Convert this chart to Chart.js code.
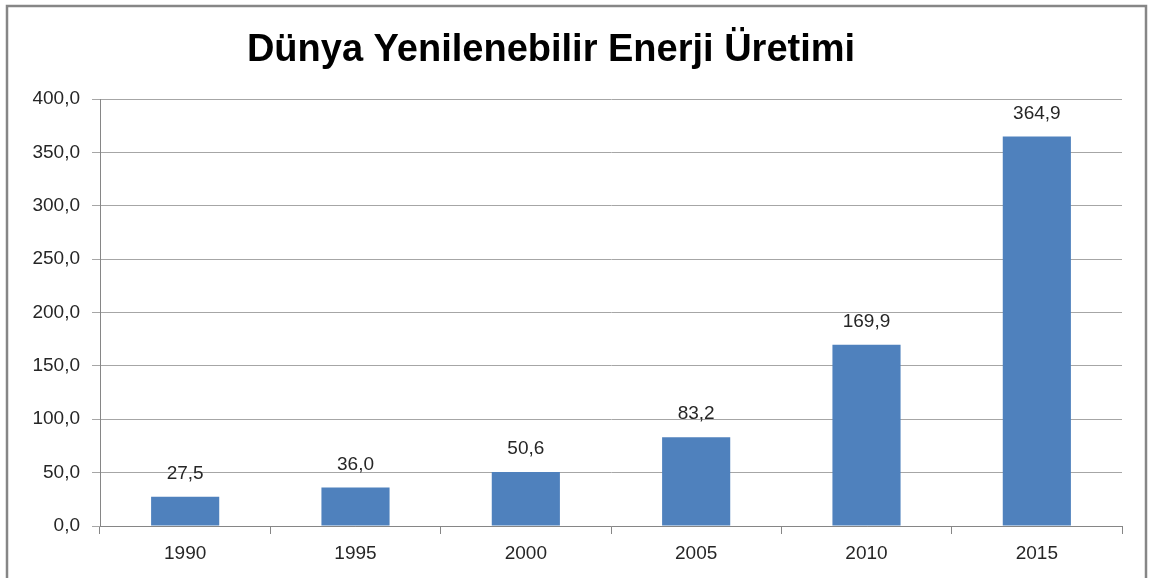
<!DOCTYPE html>
<html>
<head>
<meta charset="utf-8">
<script src="https://cdn.jsdelivr.net/npm/chart.js@4.4.0/dist/chart.umd.min.js"></script>
<style>
  html, body { margin: 0; padding: 0; background: #fff; }
  #wrap { width: 1150px; height: 578px; position: relative; }
</style>
</head>
<body>
<div id="wrap"><canvas id="chart" width="1150" height="578"></canvas></div>
<script>
// chart data
const years = ['1990', '1995', '2000', '2005', '2010', '2015'];
const production = [27.5, 36.0, 50.6, 83.2, 169.9, 364.9];
const chartTitle = 'Dünya Yenilenebilir Enerji Üretimi';

// Turkish style decimal comma
function trNumber(v) {
    return Number(v).toFixed(1).replace('.', ',');
}

// Outer frame like the spreadsheet chart border, plus the title
const framePlugin = {
    id: 'frame',
    beforeDraw(chart) {
        const ctx = chart.ctx;
        ctx.save();
        ctx.fillStyle = '#ffffff';
        ctx.fillRect(0, 0, chart.width, chart.height);
        ctx.strokeStyle = '#868686';
        ctx.lineWidth = 2.5;
        ctx.strokeRect(7, 6, 1139, 700);
        ctx.fillStyle = '#000000';
        ctx.font = 'bold 38px "Liberation Sans", Arial, sans-serif';
        ctx.textAlign = 'center';
        ctx.textBaseline = 'middle';
        ctx.fillText(chartTitle, 551, 51);
        ctx.restore();
    }
};

// Value labels above the bars
const valueLabels = {
    id: 'valueLabels',
    afterDatasetsDraw(chart) {
        const ctx = chart.ctx;
        const meta = chart.getDatasetMeta(0);
        ctx.save();
        ctx.font = '19px "Liberation Sans", Arial, sans-serif';
        ctx.fillStyle = '#262626';
        ctx.textAlign = 'center';
        ctx.textBaseline = 'middle';
        meta.data.forEach((bar, i) => {
            ctx.fillText(trNumber(chart.data.datasets[0].data[i]), bar.x, bar.y - 23);
        });
        ctx.restore();
    }
};

const ctx = document.getElementById('chart').getContext('2d');
new Chart(ctx, {
    type: 'bar',
    data: {
        labels: years,
        datasets: [{
            data: production,
            backgroundColor: '#4f81bd',
            borderWidth: 0,
            categoryPercentage: 1.0,
            barPercentage: 0.4,
        }],
    },
    options: {
        responsive: false,
        animation: false,
        layout: { padding: { left: 0, right: 28, top: 99, bottom: 0 } },
        plugins: {
            legend: { display: false },
            tooltip: { enabled: false },
            title: { display: false },
        },
        scales: {
            x: {
                offset: true,
                grid: {
                    offset: true,
                    drawOnChartArea: false,
                    drawTicks: true,
                    tickLength: 8,
                    color: '#868686',
                },
                border: { color: '#868686', width: 1 },
                ticks: {
                    color: '#262626',
                    padding: 8,
                    font: { family: '"Liberation Sans", Arial, sans-serif', size: 19 },
                },
                afterFit(scale) { scale.height = 52; },
            },
            y: {
                min: 0,
                max: 400,
                grid: {
                    color: '#a6a6a6',
                    tickLength: 8,
                },
                border: { color: '#868686', width: 1 },
                ticks: {
                    stepSize: 50,
                    color: '#262626',
                    padding: 12,
                    font: { family: '"Liberation Sans", Arial, sans-serif', size: 19 },
                    callback: (v) => trNumber(v),
                },
                afterFit(scale) { scale.width = 100; },
            },
        },
    },
    plugins: [framePlugin, valueLabels],
});
</script>
</body>
</html>
